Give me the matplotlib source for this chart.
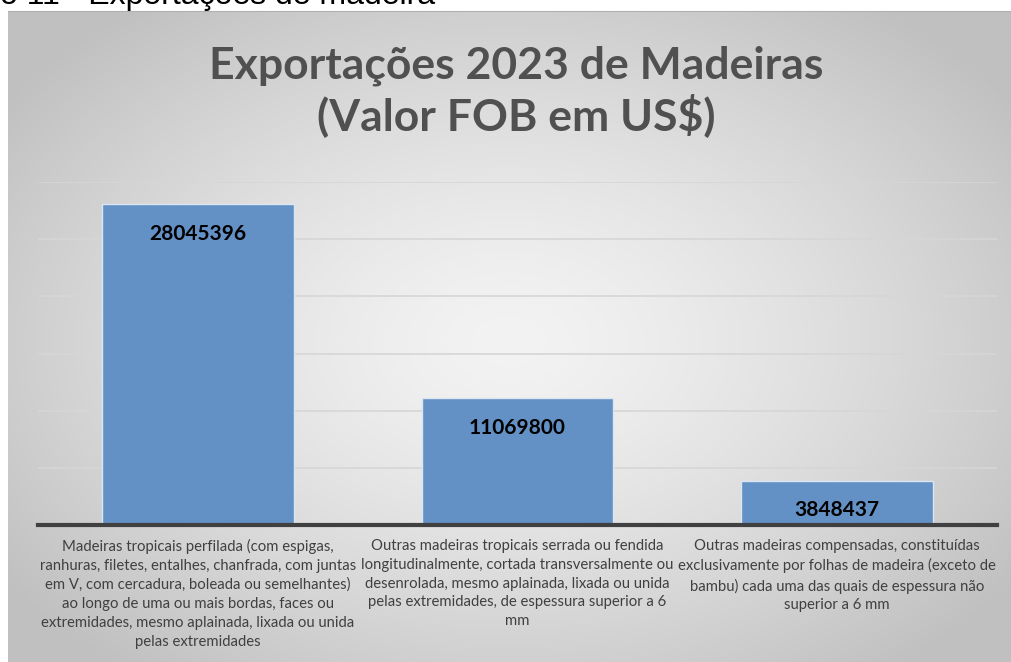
import numpy as np
import matplotlib.pyplot as plt

# Data
categories = [
    "Madeiras tropicais perfilada (com espigas,\n"
    "ranhuras, filetes, entalhes, chanfrada, com juntas\n"
    "em V, com cercadura, boleada ou semelhantes)\n"
    "ao longo de uma ou mais bordas, faces ou\n"
    "extremidades, mesmo aplainada, lixada ou unida\n"
    "pelas extremidades",
    "Outras madeiras tropicais serrada ou fendida\n"
    "longitudinalmente, cortada transversalmente ou\n"
    "desenrolada, mesmo aplainada, lixada ou unida\n"
    "pelas extremidades, de espessura superior a 6\n"
    "mm",
    "Outras madeiras compensadas, constituídas\n"
    "exclusivamente por folhas de madeira (exceto de\n"
    "bambu) cada uma das quais de espessura não\n"
    "superior a 6 mm",
]
valores = [28045396, 11069800, 3848437]
titulo = "Exportações 2023 de Madeiras\n(Valor FOB em US$)"
legenda_topo = "o 11 - Exportações de madeira"

W, H = 1011, 662
fig = plt.figure(figsize=(W / 100, H / 100), dpi=100)

# gradient background of the chart frame
bg = fig.add_axes([8 / W, 0, 1 - 8 / W, (H - 11) / H])
yy, xx = np.mgrid[0:651, 0:1003]
r = np.sqrt(((xx - 500) / 620) ** 2 + ((yy - 330) / 420) ** 2)
r = np.clip(r, 0, 1)
shade = 243 - (243 - 192) * r ** 1.4
bg.imshow(np.dstack([shade] * 3).astype(np.uint8), aspect='auto', interpolation='bilinear')
bg.set_xticks([])
bg.set_yticks([])
for s in ['left', 'right', 'bottom']:
    bg.spines[s].set_visible(False)
bg.spines['top'].set_color('#b0b0b0')
bg.spines['top'].set_linewidth(0.8)

# caption cut at top of picture
fig.text(435 / W, (H - 4) / H, legenda_topo, ha='right', va='baseline',
         fontsize=23, family='Liberation Sans', color='black')

ax = fig.add_axes([38 / W, 137 / H, 959 / W, 343 / H])
ax.patch.set_alpha(0)
x = np.arange(len(valores))
bars = ax.bar(x, valores, width=0.6, color='#6390c5', edgecolor='#dce6f2',
              linewidth=1.0, zorder=3)
ax.set_xlim(-0.5, len(valores) - 0.5)
ax.set_ylim(0, 30000000)
ax.set_yticks(np.arange(5000000, 30000001, 5000000))
ax.yaxis.grid(True, color='#d6d6d6', linewidth=1.2, zorder=0)
ax.tick_params(axis='y', left=False, labelleft=False)
ax.tick_params(axis='x', length=0, pad=10)
ax.set_xticks(x)
ax.set_xticklabels(categories, fontsize=10.7, family='Lato', color='#404040',
                   linespacing=1.44, va='top')
for s in ['left', 'right', 'top']:
    ax.spines[s].set_visible(False)
ax.spines['bottom'].set_color('#404040')
ax.spines['bottom'].set_linewidth(3)
ax.spines['bottom'].set_zorder(4)

for b, v in zip(bars, valores):
    ax.annotate(str(v), (b.get_x() + b.get_width() / 2, v), xytext=(0, -21),
                textcoords='offset points', ha='center', va='center',
                fontsize=15, fontweight='bold', family='Lato', color='black', zorder=5)

titulo_linhas = titulo.split('\n')
fig.text(516 / W, (H - 78) / H, titulo_linhas[0], ha='center', va='baseline', fontsize=32,
         fontweight='bold', family='Lato', color='#505050')
fig.text(516 / W, (H - 130) / H, titulo_linhas[1], ha='center', va='baseline', fontsize=32,
         fontweight='bold', family='Lato', color='#505050')

fig.savefig('out.png', dpi=100)
